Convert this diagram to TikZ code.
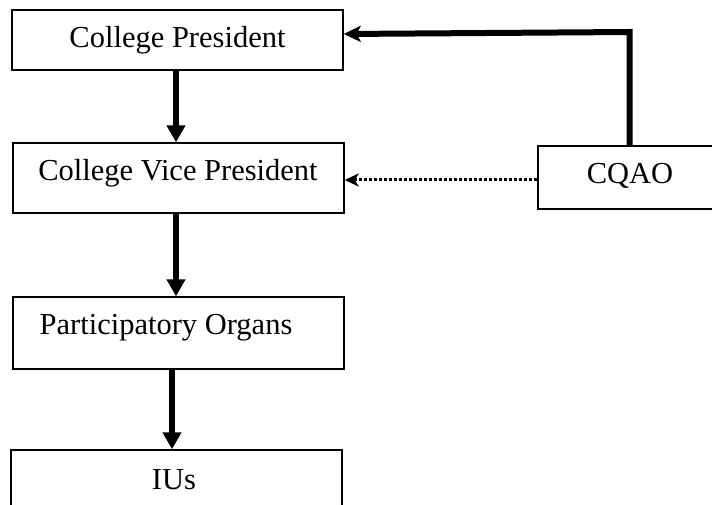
\documentclass[tikz,border=0pt]{standalone}
\usepackage{fontspec}
\setmainfont{Liberation Serif}
\usetikzlibrary{arrows.meta}
\begin{document}
\begin{tikzpicture}[x=1pt,y=-1pt,
  txt/.style={font=\fontsize{30.5}{34}\selectfont},
  box/.style={draw,line width=1.4pt,inner sep=0pt,txt},
  thickarrow/.style={line width=5.5pt,-{Triangle[length=17pt,width=18pt]}},
  linkarrow/.style={line width=6pt,-{Stealth[length=17pt,width=16pt,inset=4pt]}},
  dotarrow/.style={line width=3pt,dotted,-{Stealth[length=14pt,width=13pt,inset=4pt]}}]
\useasboundingbox (0,0) rectangle (712,505);
\clip (0,0) rectangle (712,505);
\node[box,minimum width=331pt,minimum height=60pt] (cp) at (177.5,40) {College President};
\node[box,minimum width=331pt,minimum height=70pt] (cvp) at (178.5,178) {};
\node[txt] (cvpt) at (178,173) {College Vice President};
\node[box,minimum width=331pt,minimum height=72pt] (po) at (178.5,333) {};
\node[txt] (pot) at (166,328) {Participatory Organs};
\node[box,minimum width=331pt,minimum height=110pt] (iu) at (176.5,505) {};
\node[txt] (iut) at (174,480) {IUs};
\node[box,minimum width=190pt,minimum height=63pt] (cq) at (633,177.5) {};
\node[txt] (cqt) at (630,176) {CQAO};
\coordinate (corner) at (629.5,32);
\draw[thickarrow] (cp.south -| 176,0) -- (cvp.north -| 176,0);
\draw[thickarrow] (cvp.south -| 176,0) -- (po.north -| 176,0);
\draw[thickarrow] (po.south -| 172,0) -- (iu.north -| 172,0);
\draw[linkarrow,line join=miter] (cq.north -| corner) -- (corner) -- (cp.east |- 0,34);
\draw[dotarrow] (cq.west |- 0,180) -- (cvp.east |- 0,180);
\end{tikzpicture}
\end{document}
